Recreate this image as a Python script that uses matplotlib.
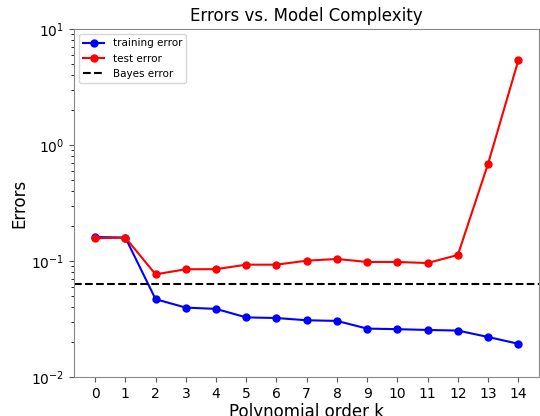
import matplotlib
matplotlib.use("Agg")
import matplotlib.pyplot as plt

orders = list(range(15))
train_err = [0.161, 0.159, 0.0468, 0.0396, 0.0386, 0.0326, 0.0322, 0.0308, 0.0304,
             0.0261, 0.0258, 0.0254, 0.0251, 0.0221, 0.0193]
test_err = [0.157, 0.159, 0.0767, 0.0848, 0.0850, 0.0929, 0.0929, 0.1006, 0.104,
            0.098, 0.098, 0.096, 0.1127, 0.690, 5.37]
bayes_err = 0.0637

fig = plt.figure(figsize=(5.4, 4.16), dpi=100)
ax = fig.add_axes([0.137, 0.094, 0.862, 0.836])

ax.semilogy(orders, train_err, "o-", color="blue", lw=1.5, ms=5, label="training error")
ax.semilogy(orders, test_err, "o-", color="red", lw=1.5, ms=5, label="test error")
ax.axhline(bayes_err, color="black", ls="--", lw=1.5, label="Bayes error")

ax.set_ylim(1e-2, 1e1)
ax.set_xticks(orders)
ax.tick_params(labelsize=10, color="#555555")
for sp in ax.spines.values():
    sp.set_color("#888888")

ax.set_title("Errors vs. Model Complexity", fontsize=12)
ax.set_xlabel("Polynomial order k", fontsize=12, labelpad=1.5)
ax.set_ylabel("Errors", fontsize=12, labelpad=2)
ax.legend(loc="upper left", fontsize=7.5)

fig.savefig("out.png", dpi=100)
